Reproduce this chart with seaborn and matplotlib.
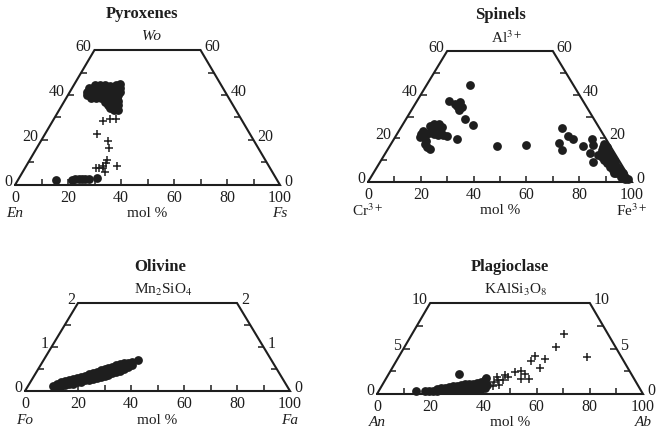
import numpy as np
import matplotlib
matplotlib.use("Agg")
import matplotlib.pyplot as plt
import seaborn as sns

sns.set_style("white")
plt.rcParams['font.family'] = ['Liberation Serif', 'DejaVu Serif']
plt.rcParams['mathtext.fontset'] = 'stix'

INK = "#1e1e1e"

# ============================================================
# Data (x = mol % read on the base scale, y = value on side scale)
# ============================================================

# --- Pyroxenes: Wo vs base ---
pyx_cpx_x = [30, 32, 34, 36, 38, 39.7,
             28, 29.5, 31, 33, 35, 37, 39.5,
             27, 28.5, 30, 32, 34, 36, 38, 39.5,
             27, 29, 31, 33, 35, 37, 39,
             28.5, 30.5, 32.5, 34.5, 36.5, 38.5,
             34, 36, 38, 39,
             35, 37, 38.8,
             36, 38.5,
             37.5, 39]
pyx_cpx_y = [44.3, 44.5, 44.4, 44.2, 44.4, 44.8,
             43, 43.2, 43, 43.1, 43, 43.2, 43,
             41.5, 41.6, 41.5, 41.4, 41.5, 41.6, 41.5, 41.4,
             40, 40.1, 40, 39.9, 40, 40.1, 40,
             38.8, 38.7, 38.8, 38.6, 38.8, 38.7,
             37, 37.1, 37, 37.2,
             35.5, 35.6, 35.5,
             34.2, 34,
             33.2, 33.4]
pyx_low_x = [15.5, 21.5, 22.8, 24.0, 25.2, 26.5, 27.8, 31.1]
pyx_low_y = [2.2, 2.4, 2.7, 2.5, 2.8, 2.5, 2.6, 3.3]
pyx_plus_x = [33.1, 35.8, 38.1, 30.8, 35.0, 35.6, 30.6, 31.8, 33.3, 34.3,
              34.6, 34.0, 38.4, 33.3]
pyx_plus_y = [28.6, 29.2, 29.2, 22.7, 19.6, 16.6, 7.4, 7.4, 8.6, 9.9,
              11.1, 5.9, 8.6, 7.4]

# --- Spinels: Al3+ vs base ---
spl_x = [25, 27, 23.5, 26, 28, 21, 20, 19.8, 21.5, 22, 21.5, 22.5, 23.5,
         27.5, 28.5, 30.0, 26.5, 25, 24, 23,
         38.6, 30.7, 33.0, 34.8, 35.5, 34.6, 33.8, 36.7, 39.6, 33.8,
         49.0, 59.9,
         73.4, 75.9, 77.8, 72.3, 73.4, 81.6, 84.7, 85.3, 84.1, 85.3, 87.2,
         89.3, 89, 90.5, 88.5, 90.5, 88.3, 90, 91.5, 88.8, 90.5, 92.5,
         89.5, 91.2, 93, 90.5, 92, 93.5, 91.5, 93, 94.5, 92.8, 94.3, 95.5,
         93, 94, 95.5, 96.5, 95.8, 97, 97.5, 98.5]
spl_y = [26.5, 26.5, 25.5, 25, 25, 23.5, 22, 20.5, 21, 19, 17.5, 16, 15.3,
         22.5, 21.5, 21.2, 21.5, 21.8, 23.5, 22.5,
         44.4, 37.3, 35.6, 36.8, 34.5, 33.0, 35.0, 28.7, 26.1, 19.7,
         16.5, 17.0,
         24.6, 21.1, 19.5, 18.0, 14.7, 16.5, 19.5, 17.0, 13.1, 9.3, 12.4,
         17.5, 16, 16, 14.5, 14.5, 13, 13, 13, 11.5, 11.5, 11.5,
         10, 10, 10, 8.5, 8.5, 8.5, 7, 7, 7, 5.5, 5.5, 5.5,
         4, 4, 4, 4, 2.5, 2.5, 1.2, 1.2]

# --- Olivine: Mn2SiO4 vs base ---
ol_x = [10.7, 12, 12, 13.5, 13.5, 15, 15, 16.5, 16.5, 18, 18, 19.5, 19.5,
        21, 21, 22.5, 22.5, 24, 24, 25.5, 25.5, 27, 27, 27, 28.5, 28.5, 28.5,
        30, 30, 30, 31.5, 31.5, 31.5, 33, 33, 33, 34.5, 34.5, 34.5,
        36, 36, 36, 37.5, 37.5, 39, 39, 40.5, 40.5, 42.5]
ol_y = [0.12, 0.10, 0.17, 0.12, 0.20, 0.14, 0.22, 0.16, 0.25, 0.17, 0.27,
        0.20, 0.30, 0.21, 0.32, 0.24, 0.35, 0.25, 0.38, 0.28, 0.40,
        0.29, 0.44, 0.36, 0.32, 0.47, 0.39, 0.34, 0.50, 0.42, 0.36, 0.52, 0.44,
        0.40, 0.55, 0.47, 0.43, 0.58, 0.50, 0.46, 0.61, 0.53, 0.50, 0.63,
        0.54, 0.64, 0.58, 0.66, 0.70]

# --- Plagioclase: KAlSi3O8 vs base ---
pl_dot_x = [14.7, 30.9, 18, 19.5, 21, 22.5, 22.5, 24, 24, 25.5, 25.5, 27, 27,
            28.5, 28.5, 30, 30, 31.5, 31.5, 33, 33, 34.5, 34.5, 36, 36,
            37.5, 37.5, 39, 39, 40.5, 40.5, 41.5, 41, 33, 36, 39]
pl_dot_y = [0.3, 2.2, 0.35, 0.35, 0.35, 0.35, 0.55, 0.4, 0.65, 0.4, 0.7, 0.4, 0.75,
            0.45, 0.85, 0.45, 0.9, 0.5, 0.95, 0.5, 1.05, 0.5, 1.15, 0.5, 1.15,
            0.55, 1.25, 0.6, 1.35, 0.7, 1.55, 1.0, 1.75, 0.75, 0.8, 0.95]
pl_plus_x = [70.3, 67.3, 59.4, 57.8, 63.2, 61.3, 54.0, 51.9, 54.0, 57.3, 55.6,
             78.8, 48.1, 47.5, 49.4, 44, 45, 46, 45.5, 43.5]
pl_plus_y = [6.56, 5.2, 4.2, 3.67, 3.8, 2.9, 2.5, 2.45, 1.6, 1.7, 2.2,
             4.1, 2.1, 1.54, 1.9, 1.3, 1.9, 1.0, 1.5, 0.9]

base_labels = [0, 20, 40, 60, 80, 100]

DOT = 40
PLUS = 30

# ============================================================
# Figure
# ============================================================
W, H = 657, 432
fig = plt.figure(figsize=(W / 100, H / 100), dpi=100)


def panel(x0, x1, base, top):
    return fig.add_axes([x0 / W, (H - base) / H, (x1 - x0) / W, (base - top) / H])


def draw_frame(ax, a, ymax, side_ticks, side_labels, title, top_label,
               left_label, right_label, italic, dx_title=50, dx_top=51):
    ax.set_xlim(0, 100)
    ax.set_ylim(0, ymax)
    ax.axis("off")
    ax.plot([0, 100, 100 - a, a, 0], [0, 0, ymax, ymax, 0], color=INK,
            lw=1.5, clip_on=False, solid_joinstyle="miter")
    bt = np.arange(10, 100, 10)
    ax.plot(bt, np.zeros_like(bt), ls="none", marker=2, ms=4, mew=1.1,
            color=INK, clip_on=False)
    st = np.array(side_ticks, dtype=float)
    ax.plot(a * st / ymax, st, ls="none", marker=1, ms=4, mew=1.1,
            color=INK, clip_on=False)
    ax.plot(100 - a * st / ymax, st, ls="none", marker=0, ms=4, mew=1.1,
            color=INK, clip_on=False)

    for v in base_labels:
        ax.annotate(str(v), (v, 0), xytext=(0, -13), textcoords="offset pixels",
                    ha="center", va="center", fontsize=11.5, color=INK)
    for v in side_labels:
        ax.annotate(str(v), (a * v / ymax, v), xytext=(-3, 3),
                    textcoords="offset pixels", ha="right", va="center",
                    fontsize=11.5, color=INK)
        ax.annotate(str(v), (100 - a * v / ymax, v), xytext=(4, 3),
                    textcoords="offset pixels", ha="left", va="center",
                    fontsize=11.5, color=INK)

    style = "italic" if italic else "normal"
    ax.annotate(left_label, (0, 0), xytext=(0, -29), textcoords="offset pixels",
                ha="center", va="center", fontsize=11, style=style, color=INK)
    ax.annotate("mol %", (50, 0), xytext=(0, -29), textcoords="offset pixels",
                ha="center", va="center", fontsize=11, color=INK)
    ax.annotate(right_label, (100, 0), xytext=(0, -29), textcoords="offset pixels",
                ha="center", va="center", fontsize=11, style=style, color=INK)
    ax.annotate(top_label, (dx_top, ymax), xytext=(0, 13), textcoords="offset pixels",
                ha="center", va="center", fontsize=11, style=style, color=INK)
    ax.annotate(title, (dx_title, ymax), xytext=(0, 36), textcoords="offset pixels",
                ha="center", va="center", fontsize=12, fontweight="bold", color=INK)


# --- Pyroxenes ---
ax1 = panel(15, 280, 185, 50)
draw_frame(ax1, 30, 60, [10, 20, 30, 40, 50], [0, 20, 40, 60], "Pyroxenes",
           "Wo", "En", "Fs", True, dx_title=48, dx_top=51.5)
sns.scatterplot(x=pyx_cpx_x, y=pyx_cpx_y, ax=ax1, s=DOT, color=INK,
                linewidth=0, clip_on=False)
sns.scatterplot(x=pyx_low_x, y=pyx_low_y, ax=ax1, s=DOT, color=INK,
                linewidth=0, clip_on=False)
sns.scatterplot(x=pyx_plus_x, y=pyx_plus_y, ax=ax1, s=PLUS, marker="+",
                color=INK, linewidth=1.1, clip_on=False)

# --- Spinels ---
ax2 = panel(368, 632, 182, 51)
draw_frame(ax2, 30, 60, [10, 20, 30, 40, 50], [0, 20, 40, 60], "Spinels",
           r"Al$^{3+}$", r"Cr$^{3+}$", r"Fe$^{3+}$", False, dx_title=50, dx_top=52.5)
sns.scatterplot(x=spl_x, y=spl_y, ax=ax2, s=DOT, color=INK, linewidth=0,
                clip_on=False)

# --- Olivine ---
ax3 = panel(25, 290, 391, 303)
draw_frame(ax3, 20, 2, [0.5, 1.0, 1.5], [0, 1, 2], "Olivine",
           r"Mn$_2$SiO$_4$", "Fo", "Fa", True, dx_title=51, dx_top=52)
ax3.texts[-2].set_style("normal")
sns.scatterplot(x=ol_x, y=ol_y, ax=ax3, s=DOT, color=INK, linewidth=0,
                clip_on=False)

# --- Plagioclase ---
ax4 = panel(377, 643, 394, 303)
draw_frame(ax4, 20, 10, [2.5, 5.0, 7.5], [0, 5, 10], "Plagioclase",
           r"KAlSi$_3$O$_8$", "An", "Ab", True, dx_title=50, dx_top=52)
ax4.texts[-2].set_style("normal")
sns.scatterplot(x=pl_dot_x, y=pl_dot_y, ax=ax4, s=DOT, color=INK, linewidth=0,
                clip_on=False)
sns.scatterplot(x=pl_plus_x, y=pl_plus_y, ax=ax4, s=PLUS, marker="+",
                color=INK, linewidth=1.1, clip_on=False)

fig.savefig("out.png", dpi=100, facecolor="white")
